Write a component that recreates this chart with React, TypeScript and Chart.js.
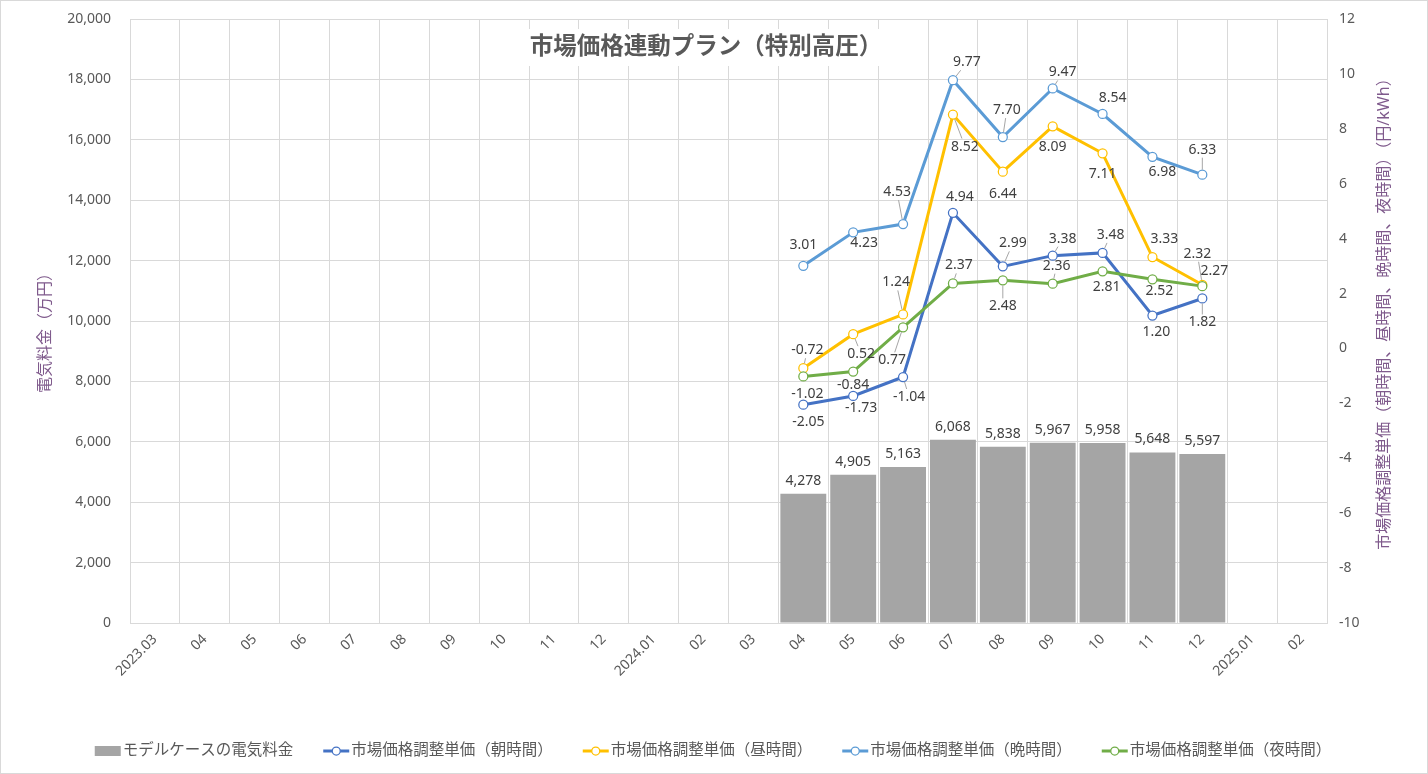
import React, { useEffect, useRef } from 'react';
import { Chart, registerables } from 'chart.js';

Chart.register(...registerables);

const categories = [
  '2023.03', '04', '05', '06', '07', '08', '09', '10', '11', '12',
  '2024.01', '02', '03', '04', '05', '06', '07', '08', '09', '10', '11', '12',
  '2025.01', '02',
];

const billValues = [
  null, null, null, null, null, null, null, null, null, null, null, null, null,
  4278, 4905, 5163, 6068, 5838, 5967, 5958, 5648, 5597,
  null, null,
];

const morningValues = [
  null, null, null, null, null, null, null, null, null, null, null, null, null,
  -2.05, -1.73, -1.04, 4.94, 2.99, 3.38, 3.48, 1.2, 1.82,
  null, null,
];

const daytimeValues = [
  null, null, null, null, null, null, null, null, null, null, null, null, null,
  -0.72, 0.52, 1.24, 8.52, 6.44, 8.09, 7.11, 3.33, 2.32,
  null, null,
];

const eveningValues = [
  null, null, null, null, null, null, null, null, null, null, null, null, null,
  3.01, 4.23, 4.53, 9.77, 7.7, 9.47, 8.54, 6.98, 6.33,
  null, null,
];

const nightValues = [
  null, null, null, null, null, null, null, null, null, null, null, null, null,
  -1.02, -0.84, 0.77, 2.37, 2.48, 2.36, 2.81, 2.52, 2.27,
  null, null,
];

const seriesNames = [
  'モデルケースの電気料金',
  '市場価格調整単価（朝時間）',
  '市場価格調整単価（昼時間）',
  '市場価格調整単価（晩時間）',
  '市場価格調整単価（夜時間）',
];

const TITLE = '市場価格連動プラン（特別高圧）';
const LEFT_TITLE = '電気料金（万円）';
const RIGHT_TITLE = '市場価格調整単価（朝時間、昼時間、晩時間、夜時間）（円/kWh）';

const FONT = "'Noto Sans', 'Noto Sans CJK JP', sans-serif";
const TEXT = '#595959';
const LABEL_TEXT = '#404040';
const GRID = '#D9D9D9';
const COLORS = ['#A5A5A5', '#4472C4', '#FFC000', '#5B9BD5', '#70AD47'];

// label placement (dx, dy, leader line) for each plotted point, in order
const LABEL_PLACEMENT: Record<number, number[][]> = {
  1: [[5, 17, 0], [8, 12, 0], [6, 20, 1], [7, -16, 0], [10, -23, 1], [10, -17, 1], [8, -18, 1], [4, 17, 0], [0, 24, 1]],
  2: [[4, -18, 1], [8, 20, 1], [-7, -32, 1], [12, 32, 1], [0, 22, 0], [0, 21, 0], [0, 21, 0], [12, -18, 0], [-5, -31, 1]],
  3: [[0, -21, 0], [11, 11, 0], [-6, -32, 1], [14, -18, 1], [4, -27, 1], [10, -16, 1], [10, -16, 0], [10, 15, 0], [0, -25, 1]],
  4: [[4, 18, 0], [0, 13, 0], [-11, 33, 1], [6, -18, 1], [0, 26, 1], [4, -18, 1], [4, 16, 0], [7, 12, 0], [12, -15, 0]],
};

const fmtBill = (v: number) => v.toLocaleString('en-US');
const fmtPrice = (v: number) => v.toFixed(2);

const decorPlugin = {
  id: 'decor',
  beforeDraw(chart: any) {
    const { ctx, width, height } = chart;
    ctx.save();
    ctx.fillStyle = '#FFFFFF';
    ctx.fillRect(0, 0, width, height);
    ctx.restore();
  },
  beforeDatasetsDraw(chart: any) {
    const { ctx } = chart;
    ctx.save();
    ctx.font = `bold 23.5px ${FONT}`;
    const w = ctx.measureText(TITLE).width;
    const cx = 706;
    const cy = 47;
    ctx.fillStyle = '#FFFFFF';
    ctx.fillRect(cx - w / 2 - 10, cy - 18, w + 20, 37);
    ctx.fillStyle = TEXT;
    ctx.textAlign = 'center';
    ctx.textBaseline = 'middle';
    ctx.fillText(TITLE, cx, cy);
    ctx.restore();
  },
  afterDatasetsDraw(chart: any) {
    const { ctx } = chart;
    ctx.save();
    ctx.font = `14px ${FONT}`;
    ctx.textAlign = 'center';
    ctx.textBaseline = 'middle';
    chart.data.datasets.forEach((ds: any, di: number) => {
      const meta = chart.getDatasetMeta(di);
      let k = 0;
      ds.data.forEach((v: any, i: number) => {
        if (v === null || v === undefined) return;
        const el = meta.data[i];
        if (di === 0) {
          ctx.fillStyle = LABEL_TEXT;
          ctx.fillText(fmtBill(v), el.x, el.y - 13);
        } else {
          const pl = (LABEL_PLACEMENT[di] || [])[k] || [0, -16, 0];
          const text = fmtPrice(v);
          const lx = el.x + pl[0];
          const ly = el.y + pl[1];
          if (pl[2]) {
            const tw = ctx.measureText(text).width;
            const hw = tw / 2 + 1;
            const hh = 8;
            const vx = el.x - lx;
            const vy = el.y - ly;
            const t = Math.min(Math.abs(vx) > 0 ? hw / Math.abs(vx) : 1e9, Math.abs(vy) > 0 ? hh / Math.abs(vy) : 1e9);
            const sx = lx + vx * t;
            const sy = ly + vy * t;
            const d = Math.hypot(vx, vy);
            const ex = el.x - (vx / d) * 5;
            const ey = el.y - (vy / d) * 5;
            ctx.strokeStyle = '#A6A6A6';
            ctx.lineWidth = 1;
            ctx.beginPath();
            ctx.moveTo(sx, sy);
            ctx.lineTo(ex, ey);
            ctx.stroke();
          }
          ctx.fillStyle = LABEL_TEXT;
          ctx.fillText(text, lx, ly);
        }
        k++;
      });
    });
    ctx.restore();
  },
  afterDraw(chart: any) {
    const { ctx, width, height } = chart;
    ctx.save();
    // outer border
    ctx.strokeStyle = GRID;
    ctx.lineWidth = 1;
    ctx.strokeRect(0.5, 0.5, width - 1, height - 1);

    // axis titles
    ctx.fillStyle = '#7F5A8C';
    ctx.font = `16px ${FONT}`;
    ctx.textAlign = 'center';
    ctx.textBaseline = 'middle';
    ctx.save();
    ctx.translate(45, 329);
    ctx.rotate(-Math.PI / 2);
    ctx.fillText(LEFT_TITLE, 0, 0);
    ctx.restore();
    ctx.save();
    ctx.translate(1384, 310);
    ctx.rotate(-Math.PI / 2);
    ctx.fillText(RIGHT_TITLE, 0, 0);
    ctx.restore();

    // legend
    ctx.font = `15.5px ${FONT}`;
    ctx.textBaseline = 'middle';
    ctx.textAlign = 'left';
    const markerW = 26;
    const textGap = 2;
    const itemGap = 30;
    const widths = seriesNames.map((n) => markerW + textGap + ctx.measureText(n).width);
    const total = widths.reduce((a, b) => a + b, 0) + itemGap * (seriesNames.length - 1);
    let x = 713 - total / 2;
    const y = 751;
    seriesNames.forEach((name, i) => {
      const c = COLORS[i];
      if (i === 0) {
        ctx.fillStyle = c;
        ctx.fillRect(x, y - 5, markerW, 10);
      } else {
        ctx.strokeStyle = c;
        ctx.lineWidth = 3;
        ctx.beginPath();
        ctx.moveTo(x, y);
        ctx.lineTo(x + markerW, y);
        ctx.stroke();
        ctx.beginPath();
        ctx.arc(x + markerW / 2, y, 4, 0, Math.PI * 2);
        ctx.fillStyle = '#FFFFFF';
        ctx.fill();
        ctx.lineWidth = 1.25;
        ctx.stroke();
      }
      ctx.fillStyle = TEXT;
      ctx.fillText(name, x + markerW + textGap, y);
      x += widths[i] + itemGap;
    });
    ctx.restore();
  },
};

function lineDataset(label: string, data: (number | null)[], color: string, order: number) {
  return {
    type: 'line' as const,
    label,
    data,
    yAxisID: 'y1',
    borderColor: color,
    backgroundColor: '#FFFFFF',
    borderWidth: 3,
    pointRadius: 4.5,
    pointBorderWidth: 1.25,
    pointBorderColor: color,
    pointBackgroundColor: '#FFFFFF',
    tension: 0,
    spanGaps: false,
    order,
  };
}

export default function App() {
  const ref = useRef<HTMLCanvasElement | null>(null);

  useEffect(() => {
    document.body.style.margin = '0';
    const canvas = ref.current;
    if (!canvas) return;
    const chart = new Chart(canvas, {
      type: 'bar',
      data: {
        labels: categories,
        datasets: [
          {
            type: 'bar',
            label: seriesNames[0],
            data: billValues,
            yAxisID: 'y',
            backgroundColor: COLORS[0],
            borderWidth: 0,
            barPercentage: 0.92,
            categoryPercentage: 1,
            order: 5,
          } as any,
          lineDataset(seriesNames[1], morningValues, COLORS[1], 4),
          lineDataset(seriesNames[2], daytimeValues, COLORS[2], 3),
          lineDataset(seriesNames[3], eveningValues, COLORS[3], 2),
          lineDataset(seriesNames[4], nightValues, COLORS[4], 1),
        ],
      },
      options: {
        responsive: false,
        animation: false,
        devicePixelRatio: 1,
        layout: { padding: { top: 19, left: 0, right: 0, bottom: 0 } },
        plugins: {
          legend: { display: false },
          title: { display: false },
          tooltip: { enabled: false },
        },
        scales: {
          x: {
            offset: true,
            grid: { color: GRID, offset: true, drawTicks: false },
            border: { color: GRID },
            ticks: {
              color: TEXT,
              font: { family: FONT, size: 14 },
              maxRotation: 45,
              minRotation: 45,
              autoSkip: false,
              padding: 8,
            },
            afterFit: (s: any) => { s.height = 151; },
          },
          y: {
            position: 'left',
            min: 0,
            max: 20000,
            grid: { color: GRID, drawTicks: false },
            border: { display: false },
            ticks: {
              stepSize: 2000,
              color: TEXT,
              font: { family: FONT, size: 14 },
              padding: 19,
              callback: (v: any) => Number(v).toLocaleString('en-US'),
            },
            afterFit: (s: any) => { s.width = 130; s.paddingTop = 8; s.paddingBottom = 8; },
          },
          y1: {
            position: 'right',
            min: -10,
            max: 12,
            grid: { display: false, drawTicks: false },
            border: { display: false },
            ticks: {
              stepSize: 2,
              color: TEXT,
              font: { family: FONT, size: 14 },
              padding: 12,
            },
            afterFit: (s: any) => { s.width = 101; s.paddingTop = 8; s.paddingBottom = 8; },
          },
        },
      } as any,
      plugins: [decorPlugin],
    });
    return () => chart.destroy();
  }, []);

  return (
    <div style={{ width: 1428, height: 774 }}>
      <canvas ref={ref} width={1428} height={774} style={{ display: 'block', width: 1428, height: 774 }} />
    </div>
  );
}
